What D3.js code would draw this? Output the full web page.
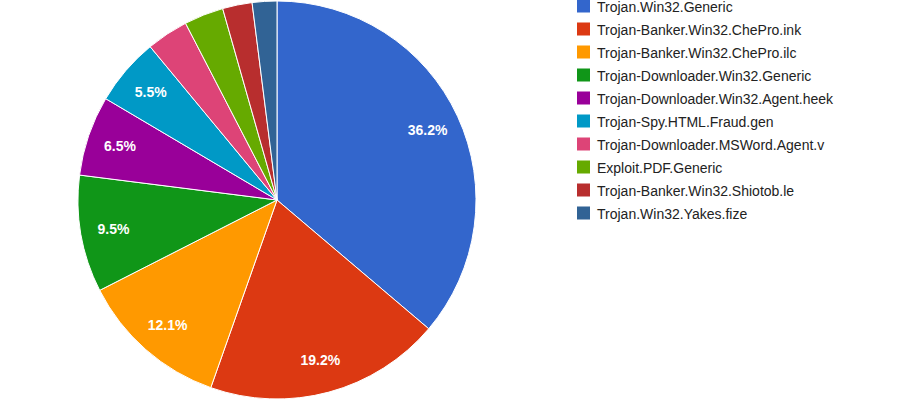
<!DOCTYPE html>
<html>
<head>
<meta charset="utf-8">
<script src="https://cdn.jsdelivr.net/npm/d3@7"></script>
<style>
  body { margin: 0; background: #fff; }
  svg { display: block; }
</style>
</head>
<body>
<div id="chart"></div>
<script>
// malware families and their share (percent)
const categories = [
  "Trojan.Win32.Generic",
  "Trojan-Banker.Win32.ChePro.ink",
  "Trojan-Banker.Win32.ChePro.ilc",
  "Trojan-Downloader.Win32.Generic",
  "Trojan-Downloader.Win32.Agent.heek",
  "Trojan-Spy.HTML.Fraud.gen",
  "Trojan-Downloader.MSWord.Agent.v",
  "Exploit.PDF.Generic",
  "Trojan-Banker.Win32.Shiotob.le",
  "Trojan.Win32.Yakes.fize"
];
const shares = [36.2, 19.2, 12.1, 9.5, 6.5, 5.5, 3.4, 3.2, 2.4, 2.0];
const colors = ["#3366cc", "#dc3912", "#ff9900", "#109618", "#990099",
                "#0099c6", "#dd4477", "#66aa00", "#b82e2e", "#316395"];

const width = 897, height = 399;
const cx = 277, cy = 200, radius = 199;
const labelRadius = 166;

const svg = d3.select("#chart")
  .append("svg")
  .attr("width", width)
  .attr("height", height);

const data = categories.map((c, i) => ({ cat: c, value: shares[i], color: colors[i] }));

const pie = d3.pie()
  .sort(null)
  .value(d => d.value);

const arc = d3.arc()
  .innerRadius(0)
  .outerRadius(radius);

const labelArc = d3.arc()
  .innerRadius(labelRadius)
  .outerRadius(labelRadius);

const g = svg.append("g")
  .attr("transform", "translate(" + cx + "," + cy + ")");

const arcs = pie(data);

g.selectAll("path")
  .data(arcs)
  .enter()
  .append("path")
  .attr("d", arc)
  .attr("fill", d => d.data.color)
  .attr("stroke", "#fff")
  .attr("stroke-width", 1);

// only slices big enough get a label
g.selectAll("text")
  .data(arcs.filter(d => d.data.value >= 5))
  .enter()
  .append("text")
  .attr("transform", d => "translate(" + labelArc.centroid(d) + ")")
  .attr("text-anchor", "middle")
  .attr("dy", "0.36em")
  .attr("fill", "#fff")
  .style("font-family", "Arial, 'Liberation Sans', sans-serif")
  .style("font-size", "14px")
  .style("font-weight", "bold")
  .text(d => d.data.value.toFixed(1) + "%");

// legend
const legend = svg.append("g")
  .attr("transform", "translate(577,-0.5)");

const row = legend.selectAll("g")
  .data(data)
  .enter()
  .append("g")
  .attr("transform", (d, i) => "translate(0," + (i * 23) + ")");

row.append("rect")
  .attr("width", 13)
  .attr("height", 13)
  .attr("fill", d => d.color);

row.append("text")
  .attr("x", 20)
  .attr("y", 12)
  .attr("fill", "#222")
  .style("font-family", "Arial, 'Liberation Sans', sans-serif")
  .style("font-size", "14px")
  .text(d => d.cat);
</script>
</body>
</html>
